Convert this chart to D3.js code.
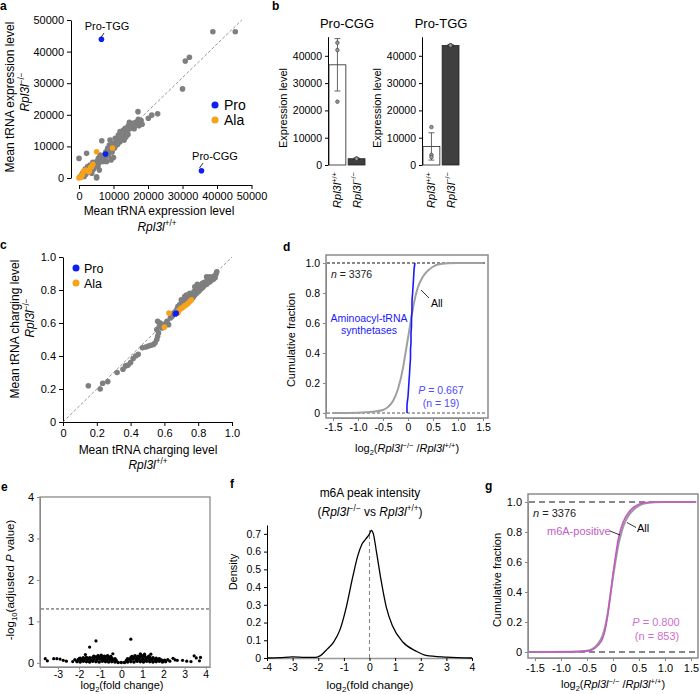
<!DOCTYPE html>
<html><head><meta charset="utf-8">
<script src="https://cdn.jsdelivr.net/npm/d3@7"></script>
<style>
html,body{margin:0;padding:0;background:#fff;}
svg{display:block;font-family:"Liberation Sans",Arial,Helvetica,sans-serif;}
</style></head><body>
<svg id="fig" width="700" height="694"></svg>
<script>
// ---------------- DATA ----------------
// Panel a: mean tRNA expression level (x: Rpl3l+/+, y: Rpl3l-/-)
const aGrayX = [0,200,800,2200,2700,3200,3700,4400,5100,5100,5600,5900,6100,6600,6600,7100,7600,7800,8300,8800,9000,9300,9500,10000,10500,11000,11400,11900,11900,12400,12900,13100,13400,13900,14300,14800,14600,15800,16800,17200,17200,17700,17100,20100,21100,22800,30800,32000,30000,38800,45300,8000,10000,5100,1000,1500,1800,2000,2500,3000,3500,4000,4200,4600,4800,5300,5500,6000,6300,6800,7000,7300,7500,8200,8500,8700,9200,9600,9800,10300,10600,10900,11200,11600,12000,12200,12600,13000,13300,13600,14000,14200,14700,15100,15500,16000,16400,17400,18000,18300];
const aGrayY = [6200,300,950,7800,2500,4100,1500,3400,0,5200,6200,2500,7300,11800,5700,5200,6800,8300,9400,10400,12000,5700,9900,11000,12600,12000,13600,11500,14700,13100,15200,12000,15700,14100,16500,17300,17600,17300,16800,17800,18600,17800,21000,18900,19900,20300,37000,38200,28200,46300,46300,5200,6500,400,1500,500,2800,1200,3600,3000,2200,5000,2800,4400,3800,4700,3600,5000,6400,6000,7000,6400,7500,7400,7000,8200,8600,8200,10400,9500,10200,11200,10600,12400,13200,12600,14000,13600,14600,13000,15200,13800,15600,16200,16600,15600,17600,16500,18200,17000];
const aAlaX = [5100,9700,4000,3000,2400,1300,1000,300,0,3400,2000,3700,600,2800];
const aAlaY = [8300,9500,4300,2400,2300,2100,1000,400,0,3400,2500,3600,200,2000];
const aProX = [7700,6500,35500];
const aProY = [7600,43900,2300];
const aTicks = [0,10000,20000,30000,40000,50000];
const aRefX = [0,47200];
const aRefY = [0,50000];
const legendNames = ['Pro','Ala'];

// Panel b: expression of Pro-CGG / Pro-TGG
const bCodons = ['Pro-CGG','Pro-TGG'];
const bGenos = ['+/+','−/−'];
const bMean = [[36700,2300],[6800,43800]];
const bErr = [[9600,250],[5000,300]];
const bPts = [[[44800,42100,23200],[2200,2400,2300]],[[13900,3700,2900],[43700,43900,43800]]];
const bTicks = [0,10000,20000,30000,40000];

// Panel c: mean tRNA charging level
const cGrayX = [0.15,0.22,0.235,0.265,0.32,0.355,0.37,0.385,0.40,0.415,0.43,0.445,0.47,0.49,0.505,0.52,0.535,0.545,0.555,0.56,0.565,0.555,0.57,0.56,0.575,0.585,0.595,0.605,0.615,0.625,0.635,0.645,0.655,0.665,0.675,0.68,0.69,0.70,0.705,0.715,0.72,0.725,0.735,0.74,0.745,0.755,0.76,0.765,0.77,0.775,0.78,0.785,0.79,0.795,0.80,0.805,0.81,0.815,0.82,0.825,0.83,0.835,0.84,0.845,0.85,0.855,0.86,0.865,0.87,0.875,0.88,0.885,0.89,0.895,0.90,0.905,0.91,0.795,0.805,0.825,0.72,0.75,0.78,0.85,0.87,0.70,0.73];
const cGrayY = [0.22,0.20,0.235,0.245,0.30,0.32,0.34,0.345,0.36,0.385,0.40,0.41,0.45,0.455,0.46,0.465,0.47,0.48,0.50,0.52,0.54,0.56,0.58,0.61,0.60,0.57,0.585,0.595,0.61,0.59,0.63,0.64,0.66,0.67,0.685,0.70,0.71,0.72,0.70,0.725,0.74,0.715,0.73,0.75,0.735,0.76,0.745,0.775,0.755,0.79,0.77,0.80,0.78,0.815,0.79,0.825,0.80,0.83,0.81,0.84,0.82,0.845,0.83,0.85,0.835,0.86,0.845,0.865,0.85,0.87,0.86,0.875,0.865,0.885,0.875,0.895,0.91,0.835,0.795,0.815,0.76,0.78,0.82,0.88,0.88,0.74,0.77];
const cAlaX = [0.60,0.627,0.675,0.685,0.695,0.70,0.71,0.72,0.73,0.74,0.75,0.76,0.68];
const cAlaY = [0.575,0.66,0.665,0.675,0.685,0.69,0.695,0.705,0.71,0.72,0.73,0.74,0.66];
const cProX = [0.665,0.67];
const cProY = [0.655,0.66];
const cTicks = [0,0.2,0.4,0.6,0.8,1.0];

// Panels d & g: cumulative fractions
const cdfXTicks = [-1.5,-1,-0.5,0,0.5,1,1.5];
const cdfYTicks = [0,0.2,0.4,0.6,0.8,1.0];
const dAllX = [-1.5,-1.0,-0.7,-0.5,-0.4,-0.3,-0.2,-0.1,-0.05,0,0.05,0.1,0.15,0.2,0.3,0.4,0.5,0.6,0.8,1.0,1.5];
const dAllY = [0,0.002,0.008,0.02,0.04,0.08,0.16,0.3,0.4,0.5,0.6,0.7,0.78,0.84,0.91,0.95,0.975,0.99,0.998,1,1];
const dAaX = [-0.02,-0.02,0.0,0.01,0.02,0.03,0.04,0.05,0.05,0.06,0.06,0.07,0.07,0.08,0.08,0.09,0.10,0.11,0.12,0.14];
const dAaY = [0,0.05,0.11,0.16,0.21,0.26,0.32,0.37,0.42,0.47,0.53,0.58,0.63,0.68,0.74,0.79,0.84,0.89,0.95,1.0];
const gAllX = [-1.6,-0.8,-0.5,-0.4,-0.3,-0.2,-0.15,-0.1,-0.05,0,0.05,0.1,0.15,0.2,0.3,0.4,0.5,0.6,0.8,1.0,1.6];
const gAllY = [0,0.001,0.008,0.02,0.05,0.11,0.17,0.26,0.38,0.5,0.61,0.71,0.78,0.84,0.91,0.95,0.975,0.99,0.999,1,1];
const gM6aX = [-1.6,-0.8,-0.5,-0.4,-0.3,-0.2,-0.15,-0.1,-0.05,0,0.05,0.1,0.15,0.2,0.3,0.4,0.5,0.6,0.8,1.0,1.6];
const gM6aY = [0,0.001,0.006,0.015,0.04,0.09,0.15,0.25,0.38,0.52,0.64,0.75,0.82,0.87,0.93,0.965,0.985,0.995,1,1,1];

// Panel e: volcano
const eBandX = [-2.1,-1.95,-1.8,-1.65,-1.5,-1.35,-1.2,-1.05,-0.9,-0.75,-0.6,-0.45,-0.3,-0.15,0,0.15,0.3,0.45,0.6,0.75,0.9,1.05,1.2,1.35,1.5,1.65,1.8,1.95,2.1,
 -2.05,-1.9,-1.75,-1.6,-1.45,-1.3,-1.15,-1.0,-0.85,-0.7,-0.55,-0.4,-0.25,0.25,0.4,0.55,0.7,0.85,1.0,1.15,1.3,1.45,1.6,1.75,1.9,2.05,
 -1.95,-1.8,-1.65,-1.5,-1.35,-1.2,-1.05,-0.9,-0.75,-0.6,-0.45,-0.3,0.3,0.45,0.6,0.75,0.9,1.05,1.2,1.35,1.5,1.65,1.8,
 -1.3,-1.1,-0.95,-0.8,-0.65,-0.5,0.5,0.65,0.8,0.95,1.1,1.3];
const eBandY = [0.03,0.02,0.04,0.03,0.02,0.04,0.03,0.02,0.04,0.03,0.02,0.03,0.02,0.01,0.01,0.01,0.02,0.03,0.02,0.04,0.03,0.02,0.04,0.03,0.02,0.03,0.04,0.02,0.03,
 0.07,0.08,0.09,0.08,0.07,0.09,0.08,0.09,0.08,0.07,0.08,0.07,0.06,0.06,0.08,0.09,0.08,0.09,0.08,0.07,0.09,0.08,0.07,0.08,0.07,0.06,
 0.11,0.12,0.13,0.12,0.13,0.14,0.13,0.12,0.13,0.12,0.11,0.10,0.10,0.12,0.13,0.12,0.14,0.13,0.12,0.13,0.12,0.11,0.10,
 0.16,0.17,0.18,0.16,0.17,0.15,0.15,0.17,0.16,0.18,0.17,0.16];
const eOutX = [-1.2,-1.5,0.45,-0.4,0.9,1.1,1.4,-1.7,-2.0,-3.6,-3.5,-3.2,-3.05,-2.9,-2.75,-2.6,-2.3,-2.2,2.2,2.3,2.45,2.55,2.65,2.9,3.1,3.45,3.55,3.75,3.7,3.3];
const eOutY = [0.53,0.38,0.57,0.22,0.22,0.21,0.21,0.20,0.10,0.10,0.05,0.10,0.10,0.09,0.06,0.04,0.03,0.08,0.08,0.04,0.11,0.07,0.06,0.06,0.04,0.17,0.12,0.13,0.05,0.03];
const eXTicks = [-3,-2,-1,0,1,2,3,4];
const eYTicks = [0,1,2,3,4];
const eThreshold = 1.3;

// Panel f: density
const fX = [-4,-3.5,-3,-2.5,-2.1,-1.9,-1.65,-1.4,-1.15,-0.9,-0.65,-0.45,-0.3,-0.15,0,0.07,0.15,0.27,0.45,0.65,0.9,1.3,1.8,2.2,3,4];
const fY = [0,0.002,0.006,0.004,0.004,0.015,0.05,0.09,0.16,0.29,0.46,0.58,0.64,0.67,0.70,0.72,0.70,0.60,0.44,0.29,0.18,0.09,0.04,0.015,0.005,0];
const fXTicks = [-4,-3,-2,-1,0,1,2,3,4];
const fYTicks = [0,0.1,0.2,0.3,0.4,0.5,0.6,0.7];

// ---------------- DRAW ----------------
const FONT = '"Liberation Sans", Arial, Helvetica, sans-serif';
const GRAY = '#7f7f7f', PRO = '#0d1ff2', ALA = '#f7a21b', PINK = '#c25bc2';
const svg = d3.select('#fig');

function rich(t, parts, fs) {
  let shift = 0;
  parts.forEach(p => {
    const ts = t.append('tspan').text(p.t);
    let target = 0;
    if (p.sup) target = -fs * 0.4;
    if (p.sub) target = fs * 0.25;
    const dy = target - shift;
    if (dy !== 0) ts.attr('dy', dy);
    shift = target;
    if (p.sup || p.sub) ts.attr('font-size', fs * 0.68);
    if (p.i) ts.attr('font-style', 'italic');
  });
  return t;
}
function label(x, y, parts, o = {}) {
  const fs = o.fs || 11;
  const t = svg.append('text').attr('x', x).attr('y', y).attr('font-size', fs)
    .attr('text-anchor', o.anchor || 'middle').attr('fill', o.fill || '#000');
  if (o.rotate) t.attr('transform', `rotate(${o.rotate},${x},${y})`);
  if (o.weight) t.attr('font-weight', o.weight);
  if (typeof parts === 'string') t.text(parts); else rich(t, parts, fs);
  return t;
}
function axisG(tr, axis, fs, color) {
  const g = svg.append('g').attr('transform', tr).call(axis);
  g.attr('font-family', FONT).attr('font-size', fs);
  g.selectAll('text').attr('fill', '#000');
  g.select('.domain').attr('stroke', color);
  g.selectAll('.tick line').attr('stroke', color);
  return g;
}
function dots(xs, ys, sx, sy, r, fill) {
  svg.append('g').selectAll('circle').data(d3.range(xs.length)).join('circle')
    .attr('cx', i => sx(xs[i])).attr('cy', i => sy(ys[i])).attr('r', r).attr('fill', fill);
}
const fmt1 = v => v === 0 ? '0' : (v < 0 ? '-' : '') + Math.abs(v).toFixed(1);
const fmtI = v => (v < 0 ? '-' : '') + Math.abs(v);
const RPL_KO = [{t:'Rpl3l', i:1}, {t:'−/−', sup:1}];
const RPL_WT = [{t:'Rpl3l', i:1}, {t:'+/+', sup:1}];

// ===== Panel a =====
label(0, 10, 'a', {anchor:'start', fs:12, weight:'bold'});
const axA = d3.scaleLinear().domain([0,50000]).range([79,251.5]);
const ayA = d3.scaleLinear().domain([0,50000]).range([178,20]);
axisG('translate(71,0)', d3.axisLeft(ayA).tickValues(aTicks).tickSize(4).tickSizeOuter(0).tickFormat(d3.format('d')), 11, '#000');
axisG('translate(0,185)', d3.axisBottom(axA).tickValues(aTicks).tickSize(4).tickSizeOuter(0).tickFormat(d3.format('d')), 11, '#000');
svg.append('line').attr('x1', axA(aRefX[0])).attr('y1', ayA(aRefY[0])).attr('x2', axA(aRefX[1])).attr('y2', ayA(aRefY[1]))
  .attr('stroke', '#777').attr('stroke-width', 0.8).attr('stroke-dasharray', '3,2');
dots(aGrayX, aGrayY, axA, ayA, 2.8, GRAY);
dots(aAlaX, aAlaY, axA, ayA, 2.8, ALA);
dots(aProX, aProY, axA, ayA, 2.8, PRO);
label(107, 30, 'Pro-TGG', {fs:11});
svg.append('line').attr('x1',104).attr('y1',33).attr('x2',101).attr('y2',37.5).attr('stroke','#000').attr('stroke-width',0.8);
label(215, 160, 'Pro-CGG', {fs:11});
svg.append('line').attr('x1',203).attr('y1',163).attr('x2',199.5).attr('y2',168).attr('stroke','#000').attr('stroke-width',0.8);
[PRO, ALA].forEach((c, i) => {
  svg.append('circle').attr('cx', 215).attr('cy', 105 + i*15).attr('r', 3.5).attr('fill', c);
  label(224, 110 + i*15, legendNames[i], {anchor:'start', fs:14});
});
label(14, 97, 'Mean tRNA expression level', {fs:12, rotate:-90});
label(29, 92, RPL_KO, {fs:12, rotate:-90});
label(159, 215, 'Mean tRNA expression level', {fs:12});
label(157, 231, RPL_WT, {fs:12});

// ===== Panel b =====
label(272, 10, 'b', {anchor:'start', fs:12, weight:'bold'});
const byB = d3.scaleLinear().domain([0,47000]).range([165, 36.7]);
const bAxisX = [328, 422];
bCodons.forEach((cod, ci) => {
  const ax0 = bAxisX[ci];
  axisG(`translate(${ax0},0)`, d3.axisLeft(byB).tickValues(bTicks).tickSize(3).tickSizeOuter(0).tickFormat(d3.format('d')), 10.5, '#000');
  const bx = d3.scaleBand().domain(bGenos).range([ax0 + 1, ax0 + 37]).paddingInner(0.12);
  bGenos.forEach((gname, gi) => {
    const m = bMean[ci][gi], e = bErr[ci][gi];
    const x0 = bx(gname), w = bx.bandwidth(), xc = x0 + w / 2;
    svg.append('rect').attr('x', x0).attr('y', byB(m)).attr('width', w).attr('height', byB(0) - byB(m))
      .attr('fill', gi === 0 ? '#fff' : '#3f3f3f').attr('stroke', '#222').attr('stroke-width', 0.8);
    const ec = gi === 0 ? '#555' : '#111';
    svg.append('line').attr('x1', xc).attr('x2', xc).attr('y1', byB(m - e)).attr('y2', byB(m + e)).attr('stroke', ec).attr('stroke-width', 0.9);
    [m - e, m + e].forEach(v => svg.append('line').attr('x1', xc - 3).attr('x2', xc + 3).attr('y1', byB(v)).attr('y2', byB(v)).attr('stroke', ec).attr('stroke-width', 0.9));
    bPts[ci][gi].forEach(v => svg.append('circle').attr('cx', xc).attr('cy', byB(v)).attr('r', 1.8)
      .attr('fill', '#9a9a9a').attr('stroke', '#333').attr('stroke-width', 0.6));
    label(xc + 4, 172, [{t:'Rpl3l', i:1}, {t:gname, sup:1}], {fs:11, rotate:-90, anchor:'end'});
  });
  label(ax0 + 19, 28, cod, {fs:13});
  label(ax0 - 41, 108, 'Expression level', {fs:11, rotate:-90});
});

// ===== Panel c =====
label(0, 249, 'c', {anchor:'start', fs:12, weight:'bold'});
const cx = d3.scaleLinear().domain([0,1]).range([63,232]);
const cy = d3.scaleLinear().domain([0,1]).range([422,257]);
axisG('translate(63,0)', d3.axisLeft(cy).tickValues(cTicks).tickSize(4).tickSizeOuter(0).tickFormat(fmt1), 11, '#000');
axisG('translate(0,422)', d3.axisBottom(cx).tickValues(cTicks).tickSize(4).tickSizeOuter(0).tickFormat(fmt1), 11, '#000');
svg.append('line').attr('x1', cx(0)).attr('y1', cy(0)).attr('x2', cx(1)).attr('y2', cy(1))
  .attr('stroke', '#777').attr('stroke-width', 0.8).attr('stroke-dasharray', '3,2');
dots(cGrayX, cGrayY, cx, cy, 2.8, GRAY);
dots(cAlaX, cAlaY, cx, cy, 2.8, ALA);
dots(cProX, cProY, cx, cy, 2.8, PRO);
[PRO, ALA].forEach((c, i) => {
  svg.append('circle').attr('cx', 76).attr('cy', 268 + i*15).attr('r', 3.5).attr('fill', c);
  label(84, 272.5 + i*15, legendNames[i], {anchor:'start', fs:12.5});
});
label(19, 329, 'Mean tRNA charging level', {fs:12, rotate:-90});
label(34, 318, RPL_KO, {fs:12, rotate:-90});
label(148, 454, 'Mean tRNA charging level', {fs:12});
label(148, 469, RPL_WT, {fs:12});

// ===== CDF panels (d, g) =====
function cdfPanel(o) {
  const sx = d3.scaleLinear().domain([-1.5,1.5]).range(o.xr);
  const sy = d3.scaleLinear().domain([0,1]).range(o.yr);
  axisG(`translate(${o.box[0]},0)`, d3.axisLeft(sy).tickValues(cdfYTicks).tickSize(3).tickSizeOuter(0).tickFormat(fmt1), o.fs, '#888');
  axisG(`translate(0,${o.box[3]})`, d3.axisBottom(sx).tickValues(cdfXTicks).tickSize(3).tickSizeOuter(0).tickFormat(fmt1), o.fs, '#888');
  svg.append('rect').attr('x', o.box[0]).attr('y', o.box[1]).attr('width', o.box[2] - o.box[0]).attr('height', o.box[3] - o.box[1])
    .attr('fill', 'none').attr('stroke', '#8a8a8a').attr('stroke-width', 1.5);
  [1, 0].forEach((v, k) => svg.append('line').attr('x1', o.box[0] + 1).attr('x2', o.box[2] - 1).attr('y1', sy(v)).attr('y2', sy(v))
    .attr('stroke', o.dashCol[k]).attr('stroke-width', 1).attr('stroke-dasharray', o.dash));
  const line = d3.line().curve(d3.curveMonotoneX);
  o.curves.forEach(c => {
    svg.append('path').attr('d', line(c.x.map((v, i) => [sx(v), sy(c.y[i])])))
      .attr('fill', 'none').attr('stroke', c.col).attr('stroke-width', c.w);
  });
  return {sx, sy};
}

// Panel d
label(283, 251, 'd', {anchor:'start', fs:12, weight:'bold'});
cdfPanel({xr:[333,483], yr:[413,263], box:[326,255,488,418], fs:10.5, dash:'3,2', dashCol:['#111','#555'],
  curves:[{x:dAllX, y:dAllY, col:'#a0a0a0', w:2}, {x:dAaX, y:dAaY, col:'#1a1aff', w:1.6}]});
label(331, 278, [{t:'n', i:1}, {t:' = 3376'}], {anchor:'start', fs:10.5, fill:'#222'});
label(369, 322, 'Aminoacyl-tRNA', {fs:10.5, fill:'#1a1aff'});
label(369, 334, 'synthetases', {fs:10.5, fill:'#1a1aff'});
svg.append('line').attr('x1',421).attr('y1',290).attr('x2',429).attr('y2',298).attr('stroke','#000').attr('stroke-width',0.8);
label(431, 307, 'All', {anchor:'start', fs:10.5});
label(441, 394, [{t:'P', i:1}, {t:' = 0.667'}], {fs:10.5, fill:'#4b4bff'});
label(441, 407, '(n = 19)', {fs:10.5, fill:'#4b4bff'});
label(295, 340, 'Cumulative fraction', {fs:11, rotate:-90});
label(407, 452, [{t:'log'}, {t:'2', sub:1}, {t:'('}, {t:'Rpl3l', i:1}, {t:'−/−', sup:1}, {t:' /'}, {t:'Rpl3l', i:1}, {t:'+/+', sup:1}, {t:')'}], {fs:11});

// Panel g
label(485, 490, 'g', {anchor:'start', fs:12, weight:'bold'});
cdfPanel({xr:[535,691], yr:[652,502], box:[528,494,698,658], fs:11, dash:'6,4', dashCol:['#111','#111'],
  curves:[{x:gAllX, y:gAllY, col:'#9a9a9a', w:2}, {x:gM6aX, y:gM6aY, col:PINK, w:1.6}]});
label(533, 517, [{t:'n', i:1}, {t:' = 3376'}], {anchor:'start', fs:11, fill:'#222'});
label(547, 535, 'm6A-positive', {anchor:'start', fs:11, fill:PINK});
svg.append('line').attr('x1',610).attr('y1',531).attr('x2',620).attr('y2',535).attr('stroke','#000').attr('stroke-width',0.8);
label(637, 532, 'All', {anchor:'start', fs:11});
svg.append('line').attr('x1',627).attr('y1',522.5).attr('x2',636).attr('y2',527.5).attr('stroke','#000').attr('stroke-width',0.8);
label(656, 626, [{t:'P', i:1}, {t:' = 0.800'}], {fs:11, fill:'#cc6fcc'});
label(657, 640, '(n = 853)', {fs:11, fill:'#cc6fcc'});
label(501, 580, 'Cumulative fraction', {fs:11, rotate:-90});
label(613, 688, [{t:'log'}, {t:'2', sub:1}, {t:'('}, {t:'Rpl3l', i:1}, {t:'−/−', sup:1}, {t:' /'}, {t:'Rpl3l', i:1}, {t:'+/+', sup:1}, {t:')'}], {fs:11});

// ===== Panel e =====
label(1, 491, 'e', {anchor:'start', fs:12, weight:'bold'});
const ex = d3.scaleLinear().domain([-3.85,4.2]).range([40,210]);
const ey = d3.scaleLinear().domain([-0.1,4]).range([667,497]);
axisG('translate(40,0)', d3.axisLeft(ey).tickValues(eYTicks).tickSize(3).tickSizeOuter(0).tickFormat(fmtI), 11, '#888');
axisG('translate(0,667)', d3.axisBottom(ex).tickValues(eXTicks).tickSize(2.5).tickPadding(1.5).tickSizeOuter(0).tickFormat(fmtI), 10.5, '#888');
svg.append('rect').attr('x', 40).attr('y', 497).attr('width', 170).attr('height', 170).attr('fill', 'none').attr('stroke', '#8a8a8a').attr('stroke-width', 1.3);
svg.append('line').attr('x1', 41).attr('x2', 209).attr('y1', ey(eThreshold)).attr('y2', ey(eThreshold))
  .attr('stroke', '#333').attr('stroke-width', 0.9).attr('stroke-dasharray', '3,2');
dots(eBandX, eBandY, ex, ey, 1.8, '#000');
dots(eOutX, eOutY, ex, ey, 1.6, '#000');
label(14, 580, [{t:'-log'}, {t:'10', sub:1}, {t:'(adjusted '}, {t:'P', i:1}, {t:' value)'}], {fs:11.5, rotate:-90});
label(122, 689, [{t:'log'}, {t:'2', sub:1}, {t:'(fold change)'}], {fs:11});

// ===== Panel f =====
label(230, 488, 'f', {anchor:'start', fs:12, weight:'bold'});
const fx = d3.scaleLinear().domain([-4,4]).range([267,472]);
const fy = d3.scaleLinear().domain([0,0.75]).range([658,525]);
axisG('translate(267,0)', d3.axisLeft(fy).tickValues(fYTicks).tickSize(3).tickSizeOuter(0).tickFormat(fmt1), 10.5, '#000');
const fxg = axisG('translate(0,658)', d3.axisBottom(fx).tickValues(fXTicks).tickSize(3).tickSizeOuter(0).tickFormat(fmtI), 10.5, '#000');
fxg.select('.domain').attr('stroke', '#999').attr('stroke-width', 1.6);
svg.append('line').attr('x1', fx(0)).attr('x2', fx(0)).attr('y1', fy(0)).attr('y2', fy(0.72))
  .attr('stroke', '#888').attr('stroke-width', 1.1).attr('stroke-dasharray', '4,3');
svg.append('path').attr('d', d3.line().curve(d3.curveMonotoneX)(fX.map((v, i) => [fx(v), fy(fY[i])])))
  .attr('fill', 'none').attr('stroke', '#000').attr('stroke-width', 1.3);
label(370, 497, 'm6A peak intensity', {fs:12});
label(370, 516, [{t:'('}, {t:'Rpl3l', i:1}, {t:'−/−', sup:1}, {t:' vs '}, {t:'Rpl3l', i:1}, {t:'+/+', sup:1}, {t:')'}], {fs:12});
label(237, 572, 'Density', {fs:11, rotate:-90});
label(370, 689, [{t:'log'}, {t:'2', sub:1}, {t:'(fold change)'}], {fs:11.5});
</script></body></html>
